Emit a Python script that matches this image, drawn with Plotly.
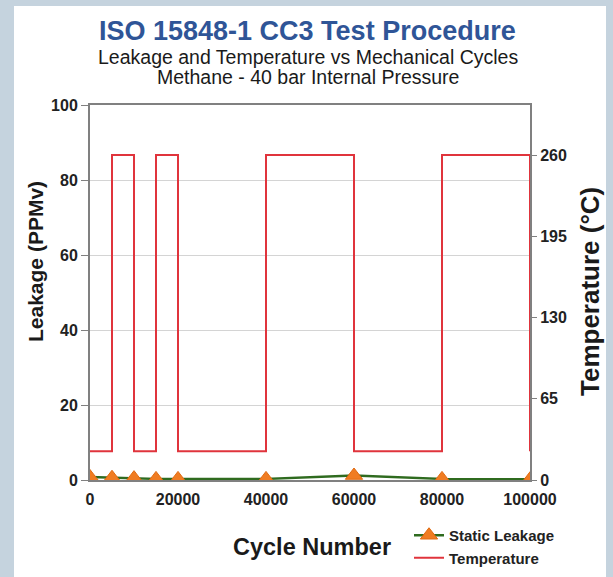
import plotly.graph_objects as go

# ---- data ----
cycles = [0, 5000, 10000, 15000, 20000, 40000, 60000, 80000, 100000]
leakage = [0.8, 0.6, 0.5, 0.3, 0.3, 0.3, 1.2, 0.3, 0.2]
temp_cycles = [0, 5000, 10000, 15000, 20000, 40000, 60000, 80000, 100000]
temperature = [23, 260, 23, 260, 23, 260, 23, 260, 23]
x_ticks = [0, 20000, 40000, 60000, 80000, 100000]
y_ticks = [0, 20, 40, 60, 80, 100]
y2_ticks = [0, 65, 130, 195, 260]

FONT = "Liberation Sans, Arial, sans-serif"
AXIS_GRAY = "#808080"

fig = go.Figure()
fig.add_trace(go.Scatter(
    x=cycles, y=leakage, name="Static Leakage", mode="lines+markers",
    line=dict(color="#2f6b1f", width=2.5),
    marker=dict(symbol="triangle-up", size=15, color="#f07c22",
                line=dict(color="#e06a10", width=1)),
))
fig.add_trace(go.Scatter(
    x=temp_cycles, y=temperature, name="Temperature", mode="lines",
    line=dict(color="#e0343c", width=2, shape="hv"), yaxis="y2",
))

L, R, T, B = 90, 83, 105, 97
W, H = 613, 577
pw, ph = W - L - R, H - T - B

def px(xp):
    return (xp - L) / pw

def py(yp):
    return (H - B - yp) / ph

fig.add_shape(type="rect", xref="paper", yref="paper",
              x0=px(14), x1=px(606), y0=py(620), y1=py(6),
              fillcolor="white", line=dict(width=0), layer="below")

fig.update_layout(
    width=W, height=H, autosize=False,
    margin=dict(l=L, r=R, t=T, b=B, pad=0, autoexpand=False),
    paper_bgcolor="#c5d3de", plot_bgcolor="white",
    font=dict(family=FONT, color="#1a1a1a"),
    showlegend=True,
    legend=dict(x=px(409), y=py(519), xanchor="left", yanchor="top",
                bgcolor="rgba(0,0,0,0)",
                font=dict(size=15, weight="bold", color="#222"),
                tracegroupgap=0),
    xaxis=dict(range=[0, 100000], tickvals=x_ticks,
               ticktext=[str(v) for v in x_ticks],
               showgrid=False, zeroline=False,
               showline=True, linecolor=AXIS_GRAY, linewidth=2, mirror=True,
               ticks="", ticklabelstandoff=4,
               tickfont=dict(size=16, weight="bold", color="#222")),
    yaxis=dict(range=[0, 100], tickvals=y_ticks,
               showgrid=True, gridcolor="#d4d4d4", gridwidth=1,
               zeroline=False, showline=True, linecolor=AXIS_GRAY, linewidth=2,
               ticks="outside", ticklen=7, tickcolor=AXIS_GRAY,
               tickfont=dict(size=16, weight="bold", color="#222")),
    yaxis2=dict(range=[0, 300], tickvals=y2_ticks, overlaying="y", side="right",
                showgrid=False, zeroline=False,
                showline=True, linecolor=AXIS_GRAY, linewidth=2,
                ticks="outside", ticklen=5, tickcolor=AXIS_GRAY,
                tickfont=dict(size=16, weight="bold", color="#222")),
)

ann = [
    dict(text="ISO 15848-1 CC3 Test Procedure", x=px(307), y=py(31),
         font=dict(size=27, weight="bold", color="#2f5597")),
    dict(text="Leakage and Temperature vs Mechanical Cycles", x=px(308), y=py(57),
         font=dict(size=19.5, color="#1a1a1a")),
    dict(text="Methane - 40 bar Internal Pressure", x=px(308), y=py(77),
         font=dict(size=19.5, color="#1a1a1a")),
    dict(text="Cycle Number", x=px(312), y=py(547),
         font=dict(size=23.5, weight="bold", color="#1a1a1a")),
    dict(text="Leakage (PPMv)", x=px(35), y=py(262), textangle=-90,
         font=dict(size=21, weight="bold", color="#1a1a1a")),
    dict(text="Temperature (°C)", x=px(590), y=py(292), textangle=-90,
         font=dict(size=26, weight="bold", color="#1a1a1a")),
]
for a in ann:
    fig.add_annotation(xref="paper", yref="paper", showarrow=False,
                       xanchor="center", yanchor="middle", **a)

fig.write_html(
    "out.html",
    config={"displayModeBar": False},
    post_script="document.body.style.margin='0';document.body.style.overflow='hidden';",
)
